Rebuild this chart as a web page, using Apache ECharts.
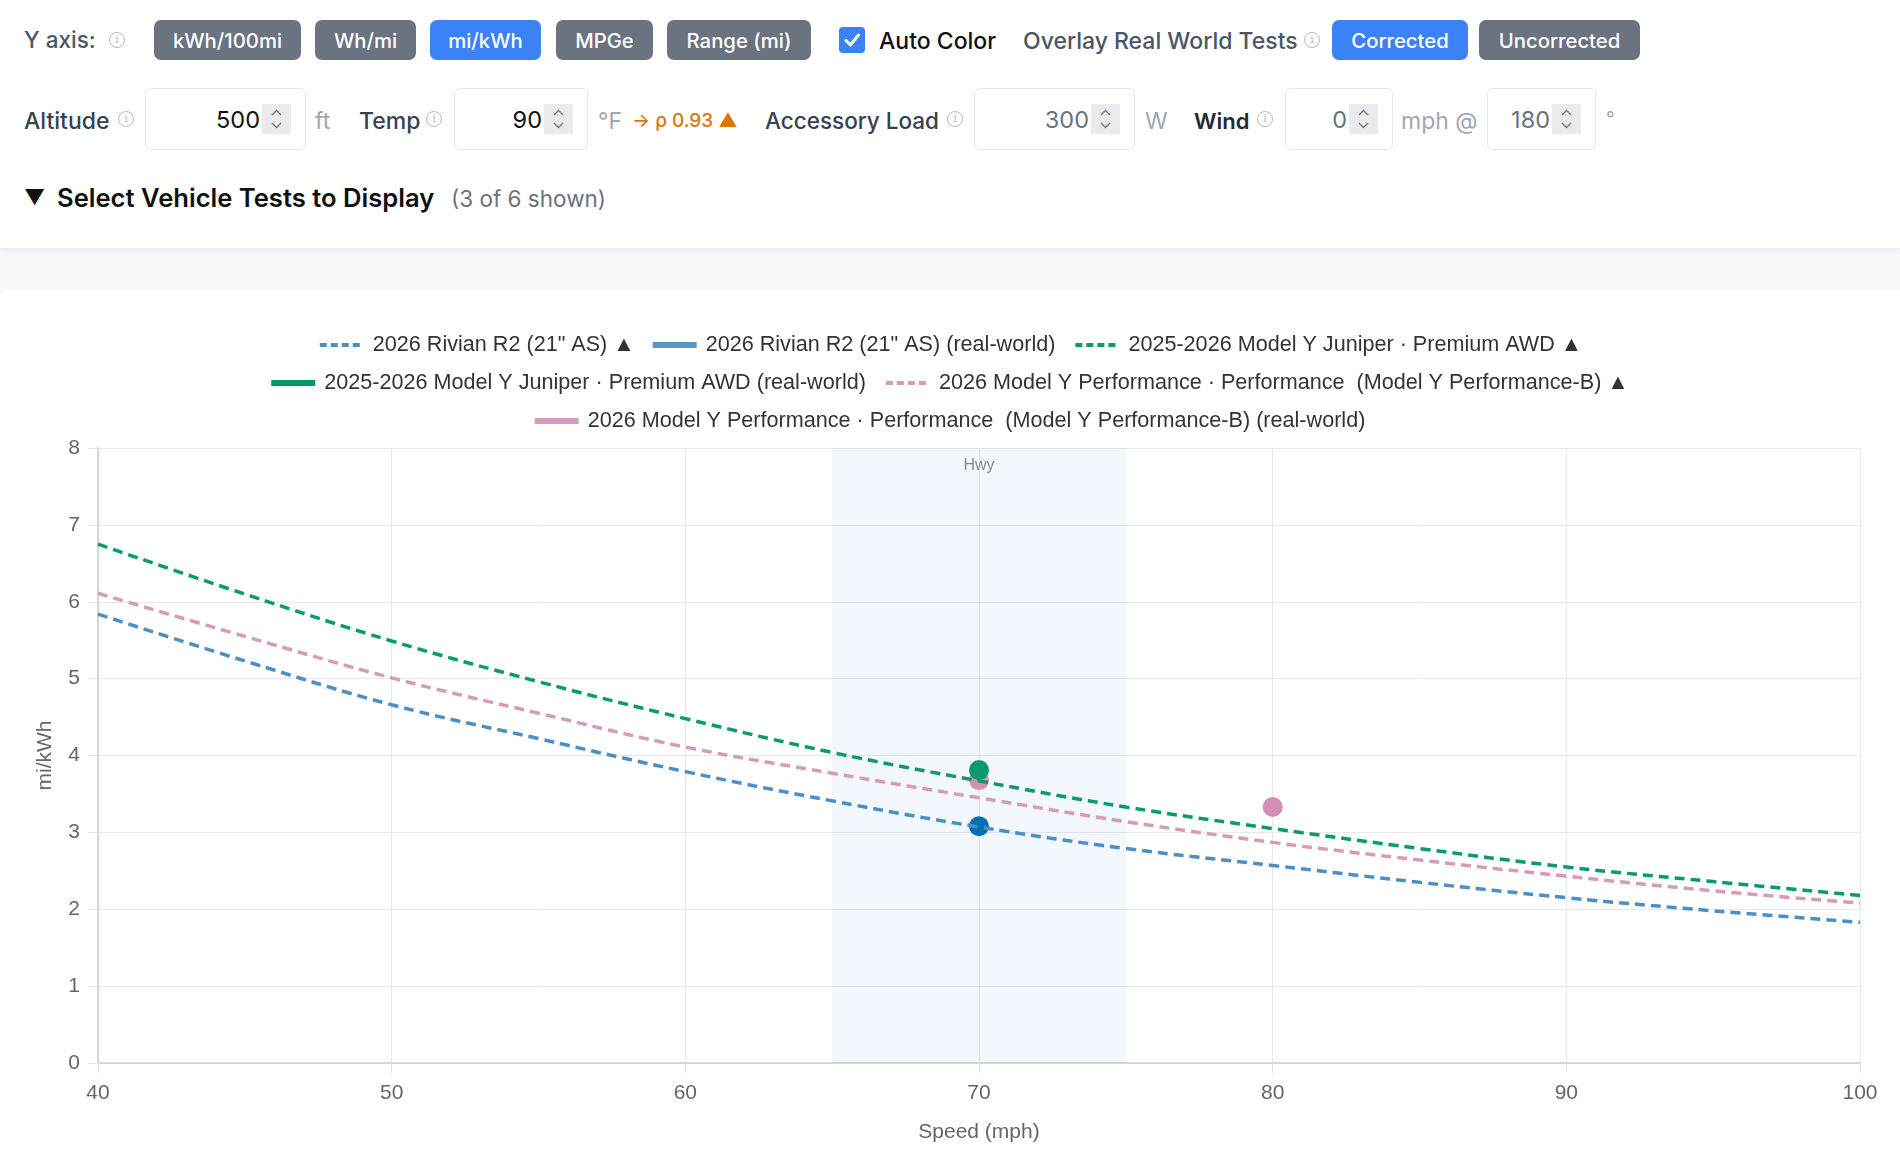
<!DOCTYPE html>
<html>
<head>
<meta charset="utf-8">
<script src="https://cdn.jsdelivr.net/npm/echarts@6/dist/echarts.min.js"></script>
<style>
  html, body { margin: 0; padding: 0; width: 1900px; height: 1167px; overflow: hidden; background: #f7f8fa; font-family: Inter, "Noto Sans", sans-serif; }
  .panel { position: absolute; left: 0; top: 0; width: 1900px; height: 248px; background: #fff; border-bottom: 1px solid #eceef1; box-shadow: 0 2px 5px rgba(0,0,0,0.05); }
  .card { position: absolute; left: 0; top: 290px; width: 1900px; height: 877px; background: #fff; border-radius: 8px 0 0 0; }
  .t { position: absolute; white-space: nowrap; line-height: 30px; font-size: 23px; }
  .btn { position: absolute; top: 20px; height: 40px; border-radius: 7px; background: #6b7280; color: #fff; font-size: 20.3px; font-weight: 500; display: flex; align-items: center; justify-content: center; }
  .btn.on { background: #3b82f6; }
  .info { position: absolute; width: 14px; height: 14px; border: 1.3px solid #b4b9c1; border-radius: 50%; color: #b4b9c1; font-size: 11px; line-height: 14px; text-align: center; font-family: "DejaVu Serif", serif; }
  .box { position: absolute; top: 88px; height: 60px; border: 1px solid #e5e7eb; border-radius: 6px; background: #fff; }
  .box .v { position: absolute; top: 16px; line-height: 30px; font-size: 23.5px; text-align: right; }
  .box .sp { position: absolute; top: 15px; width: 29px; height: 30px; background: #ebebef; }
  #chart { position: absolute; left: 0; top: 290px; width: 1900px; height: 877px; }
</style>
</head>
<body>
<div class="panel"></div>
<div class="card"></div>

<!-- row 1 -->
<div class="t" style="left:24px;top:25px;color:#4b5563;font-weight:500;font-size:22.5px">Y axis:</div>
<div class="info" style="left:109px;top:32px">i</div>
<div class="btn" style="left:154px;width:147px">kWh/100mi</div>
<div class="btn" style="left:315px;width:101px">Wh/mi</div>
<div class="btn on" style="left:430px;width:111px">mi/kWh</div>
<div class="btn" style="left:556px;width:97px">MPGe</div>
<div class="btn" style="left:667px;width:144px">Range (mi)</div>
<svg style="position:absolute;left:839px;top:27px" width="26" height="26"><rect x="0" y="0" width="26" height="26" rx="4" fill="#3b82f6"/><path d="M7 13.5 L11.5 18 L19.5 8" stroke="#fff" stroke-width="3" fill="none" stroke-linecap="round" stroke-linejoin="round"/></svg>
<div class="t" style="left:879px;top:26px;color:#111;font-weight:500">Auto Color</div>
<div class="t" style="left:1023px;top:26px;color:#4b5563;font-weight:500">Overlay Real World Tests</div>
<div class="info" style="left:1304px;top:32px">i</div>
<div class="btn on" style="left:1332px;width:136px">Corrected</div>
<div class="btn" style="left:1479px;width:161px">Uncorrected</div>

<!-- row 2 -->
<div class="t" style="left:24px;top:106px;color:#374151;font-weight:500">Altitude</div>
<div class="info" style="left:118px;top:111px">i</div>
<div class="t" style="left:315px;top:106px;color:#a0a6b0">ft</div>
<div class="t" style="left:359px;top:106px;color:#374151;font-weight:500">Temp</div>
<div class="info" style="left:426px;top:111px">i</div>
<div class="t" style="left:598px;top:106px;color:#a0a6b0">°F</div>
<div class="t" style="left:632px;top:106px;color:#d97706;font-size:19px;font-weight:500">→ ρ 0.93 ▲</div>
<div class="t" style="left:765px;top:106px;color:#374151;font-weight:500;font-size:22.5px">Accessory Load</div>
<div class="info" style="left:947px;top:111px">i</div>
<div class="t" style="left:1145px;top:106px;color:#a0a6b0">W</div>
<div class="t" style="left:1194px;top:106px;color:#1f2937;font-weight:600;font-size:22px">Wind</div>
<div class="info" style="left:1257px;top:111px">i</div>
<div class="t" style="left:1401px;top:106px;color:#a0a6b0">mph @</div>
<div class="t" style="left:1606px;top:104px;color:#a0a6b0;font-size:19px">°</div>
<div id="boxes"></div>

<!-- row 3 -->
<div class="t" style="left:24px;top:183px;color:#111;font-size:21px">▼</div>
<div class="t" style="left:57px;top:183px;color:#111;font-size:25.6px;font-weight:600">Select Vehicle Tests to Display</div>
<div class="t" style="left:451px;top:184px;color:#6b7280;font-size:22.5px">(3 of 6 shown)</div>

<div id="chart"></div>

<script>
// input boxes: left, width, value, text colour
var inputs = [
  [145, 159, "500", "#111"],
  [454, 132, "90", "#111"],
  [974, 159, "300", "#6b7280"],
  [1285, 106, "0", "#6b7280"],
  [1487, 107, "180", "#6b7280"]
];
var chev = '<svg width="29" height="30"><path d="M10 11 L14.5 6.5 L19 11 M10 19 L14.5 23.5 L19 19" stroke="#777" stroke-width="1.4" fill="none"/></svg>';
var html = "";
inputs.forEach(function (b) {
  html += '<div class="box" style="left:' + b[0] + 'px;width:' + b[1] + 'px">' +
    '<div class="v" style="right:' + (14 + 29 + 2) + 'px;color:' + b[3] + '">' + b[2] + '</div>' +
    '<div class="sp" style="right:14px">' + chev + '</div></div>';
});
document.getElementById("boxes").innerHTML = html;

// ---- chart data ----
var speeds = [40, 45, 50, 55, 60, 65, 70, 75, 80, 85, 90, 95, 100];
var rivianModel  = [5.84, 5.23, 4.66, 4.22, 3.79, 3.41, 3.07, 2.79, 2.57, 2.35, 2.15, 1.98, 1.83];
var juniperModel = [6.75, 6.10, 5.49, 4.96, 4.48, 4.04, 3.67, 3.33, 3.05, 2.79, 2.55, 2.36, 2.18];
var perfModel    = [6.11, 5.55, 5.01, 4.55, 4.11, 3.77, 3.45, 3.14, 2.87, 2.64, 2.43, 2.24, 2.08];

var rivianRealSpeed = [70];
var rivianRealVal = [3.08];
var juniperRealSpeed = [70];
var juniperRealVal = [3.81];
var perfRealSpeed = [70, 80];
var perfRealVal = [3.68, 3.33];

var hwyBand = [65, 75];

var names = [
  '2026 Rivian R2 (21" AS) ▲',
  '2026 Rivian R2 (21" AS) (real-world)',
  '2025-2026 Model Y Juniper · Premium AWD ▲',
  '2025-2026 Model Y Juniper · Premium AWD (real-world)',
  '2026 Model Y Performance · Performance  (Model Y Performance-B) ▲',
  '2026 Model Y Performance · Performance  (Model Y Performance-B) (real-world)'
];

function zip(xs, ys) {
  return xs.map(function (x, i) { return [x, ys[i]]; });
}

var font = '"Liberation Sans", Arial, sans-serif';

function lineSeries(name, vals, color, z) {
  return {
    name: name, type: "line", data: zip(speeds, vals), smooth: 0.4,
    symbol: "none", showSymbol: false, z: z,
    lineStyle: { color: color, width: 3.5, type: [10, 6] },
    itemStyle: { color: color }
  };
}
function realSeries(name, xs, ys, color, z) {
  return {
    name: name, type: "scatter", data: zip(xs, ys), symbolSize: 20, z: z,
    itemStyle: { color: color, opacity: 1 }
  };
}

// legend entries
function dashItem(name) {
  return { name: name, itemStyle: { opacity: 0 }, lineStyle: { width: 4, type: [7, 4] } };
}
function barItem(name, color) {
  return { name: name, icon: "rect", itemStyle: { color: color, opacity: 1 } };
}
function legendRow(top, items) {
  return {
    top: top, left: "center", padding: 0, itemGap: 18, itemWidth: 44, itemHeight: 6,
    textStyle: { color: "#333", fontSize: 21.6, fontFamily: font, padding: [0, 0, 0, 4] },
    data: items
  };
}

var axisCommon = {
  axisLine: { show: true, lineStyle: { color: "#cdcdcd", width: 1.5 } },
  axisTick: { show: true, length: 10, lineStyle: { color: "#e3e3e3" } },
  splitLine: { show: true, lineStyle: { color: "#e8e8e8" } },
  nameTextStyle: { color: "#666", fontSize: 21, fontFamily: font }
};

var chart = echarts.init(document.getElementById("chart"));
chart.setOption({
  animation: false,
  textStyle: { fontFamily: font },
  legend: [
    legendRow(44, [dashItem(names[0]), barItem(names[1], "#5a95c8"), dashItem(names[2])]),
    legendRow(82, [barItem(names[3], "#009a6a"), dashItem(names[4])]),
    legendRow(120, [barItem(names[5], "#d89abb")])
  ],
  grid: { left: 98, right: 40, top: 158, bottom: 104 },
  xAxis: Object.assign({}, axisCommon, {
    type: "value", min: 40, max: 100, interval: 10,
    name: "Speed (mph)", nameLocation: "middle", nameGap: 59,
    axisLabel: { color: "#666", fontSize: 21, margin: 20 }
  }),
  yAxis: Object.assign({}, axisCommon, {
    type: "value", min: 0, max: 8, interval: 1,
    name: "mi/kWh", nameLocation: "middle", nameGap: 42,
    axisLabel: { color: "#666", fontSize: 21, margin: 18 }
  }),
  series: [
    {
      type: "line", data: [], z: 1, silent: true,
      markArea: {
        silent: true,
        itemStyle: { color: "rgba(59,130,246,0.06)" },
        label: { show: true, position: "insideTop", distance: 10, color: "#888", fontSize: 16 },
        data: [[{ name: "Hwy", xAxis: hwyBand[0] }, { xAxis: hwyBand[1] }]]
      }
    },
    lineSeries(names[0], rivianModel, "#4a8fc5", 7),
    realSeries(names[1], rivianRealSpeed, rivianRealVal, "#0070b5", 6),
    lineSeries(names[2], juniperModel, "#0a9a6c", 5),
    realSeries(names[3], juniperRealSpeed, juniperRealVal, "#0a9a6c", 4),
    lineSeries(names[4], perfModel, "#d79ab9", 3),
    realSeries(names[5], perfRealSpeed, perfRealVal, "#d48db3", 2)
  ]
});
</script>
</body>
</html>
